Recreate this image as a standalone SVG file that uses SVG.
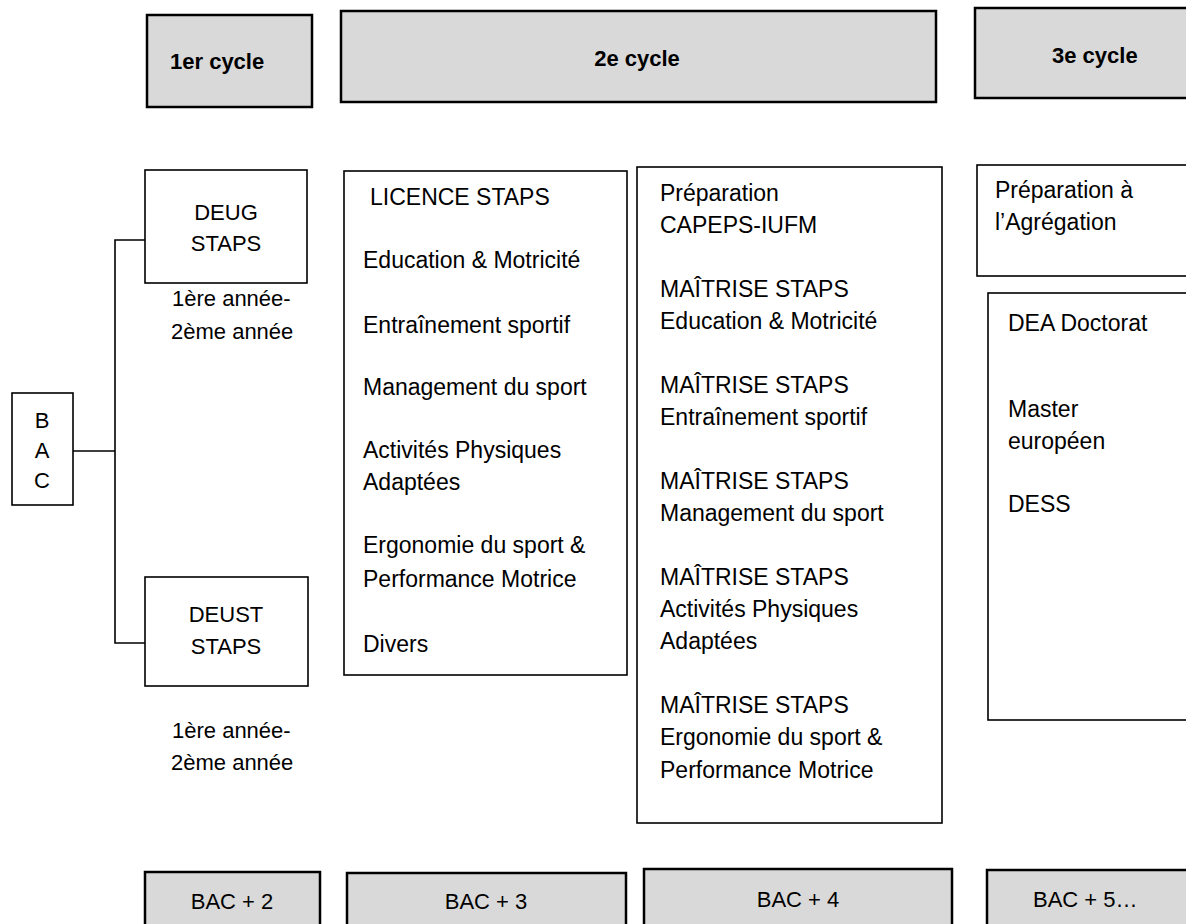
<svg xmlns="http://www.w3.org/2000/svg" width="1186" height="924" viewBox="0 0 1186 924">
<style>
.hdr{fill:#d9d9d9;stroke:#000;stroke-width:2.5}
.box{fill:#fff;stroke:#000;stroke-width:1.6}
.t{font-family:"Liberation Sans",Arial,sans-serif;font-size:23px;fill:#000}
.s{font-family:"Liberation Sans",Arial,sans-serif;font-size:22px;fill:#000}
.b{font-family:"Liberation Sans",Arial,sans-serif;font-size:22px;font-weight:bold;fill:#000}
.c{text-anchor:middle}
.ln{fill:none;stroke:#000;stroke-width:1.6}
</style>
<rect width="1186" height="924" fill="#fff"/>

<g id="connectors">
<polyline class="ln" points="73,451 115,451"/>
<polyline class="ln" points="145,240 115,240 115,643 145,643"/>
</g>

<g id="hdr1"><rect class="hdr" x="147" y="15" width="165" height="92"/><text class="b" x="170" y="69">1er cycle</text></g>
<g id="hdr2"><rect class="hdr" x="341" y="11" width="595" height="91"/><text class="b c" x="637" y="66">2e cycle</text></g>
<g id="hdr3"><rect class="hdr" x="975" y="8" width="220" height="90"/><text class="b" x="1052" y="63">3e cycle</text></g>

<g id="bac"><rect class="box" x="12" y="393" width="61" height="112"/>
<text class="s c" x="42" y="428">B</text><text class="s c" x="42" y="458">A</text><text class="s c" x="42" y="488">C</text></g>

<g id="deug"><rect class="box" x="145" y="170" width="162" height="113"/>
<text class="s c" x="226" y="220">DEUG</text><text class="s c" x="226" y="251">STAPS</text></g>
<g id="deug-years"><text class="s" x="172" y="306">1ère année-</text><text class="s" x="171" y="339">2ème année</text></g>

<g id="deust"><rect class="box" x="145" y="577" width="163" height="109"/>
<text class="s c" x="226" y="622">DEUST</text><text class="s c" x="226" y="654">STAPS</text></g>
<g id="deust-years"><text class="s" x="172" y="738">1ère année-</text><text class="s" x="171" y="770">2ème année</text></g>

<g id="licence"><rect class="box" x="344" y="171" width="283" height="504"/>
<text class="t" x="370" y="205">LICENCE STAPS</text>
<text class="t" x="363" y="268">Education &amp; Motricité</text>
<text class="t" x="363" y="333">Entraînement sportif</text>
<text class="t" x="363" y="395">Management du sport</text>
<text class="t" x="363" y="458">Activités Physiques</text>
<text class="t" x="363" y="490">Adaptées</text>
<text class="t" x="363" y="553">Ergonomie du sport &amp;</text>
<text class="t" x="363" y="587">Performance Motrice</text>
<text class="t" x="363" y="652">Divers</text>
</g>

<g id="maitrise"><rect class="box" x="637" y="167" width="305" height="656"/>
<text class="t" x="660" y="201">Préparation</text>
<text class="t" x="660" y="233">CAPEPS-IUFM</text>
<text class="t" x="660" y="297">MAÎTRISE STAPS</text>
<text class="t" x="660" y="329">Education &amp; Motricité</text>
<text class="t" x="660" y="393">MAÎTRISE STAPS</text>
<text class="t" x="660" y="425">Entraînement sportif</text>
<text class="t" x="660" y="489">MAÎTRISE STAPS</text>
<text class="t" x="660" y="521">Management du sport</text>
<text class="t" x="660" y="585">MAÎTRISE STAPS</text>
<text class="t" x="660" y="617">Activités Physiques</text>
<text class="t" x="660" y="649">Adaptées</text>
<text class="t" x="660" y="713">MAÎTRISE STAPS</text>
<text class="t" x="660" y="745">Ergonomie du sport &amp;</text>
<text class="t" x="660" y="778">Performance Motrice</text>
</g>

<g id="agregation"><rect class="box" x="977" y="165" width="220" height="111"/>
<text class="t" x="995" y="198">Préparation à</text>
<text class="t" x="995" y="230">l’Agrégation</text>
</g>

<g id="dea"><rect class="box" x="988" y="293" width="210" height="427"/>
<text class="t" x="1008" y="331">DEA Doctorat</text>
<text class="t" x="1008" y="417">Master</text>
<text class="t" x="1008" y="449">européen</text>
<text class="t" x="1008" y="512">DESS</text>
</g>

<g id="bac2"><rect class="hdr" x="145" y="872" width="175" height="70"/><text class="s c" x="232" y="909">BAC + 2</text></g>
<g id="bac3"><rect class="hdr" x="347" y="873" width="279" height="70"/><text class="s c" x="486" y="909">BAC + 3</text></g>
<g id="bac4"><rect class="hdr" x="644" y="869" width="308" height="70"/><text class="s c" x="798" y="907">BAC + 4</text></g>
<g id="bac5"><rect class="hdr" x="987" y="870" width="220" height="70"/><text class="s" x="1033" y="907">BAC + 5…</text></g>
</svg>
